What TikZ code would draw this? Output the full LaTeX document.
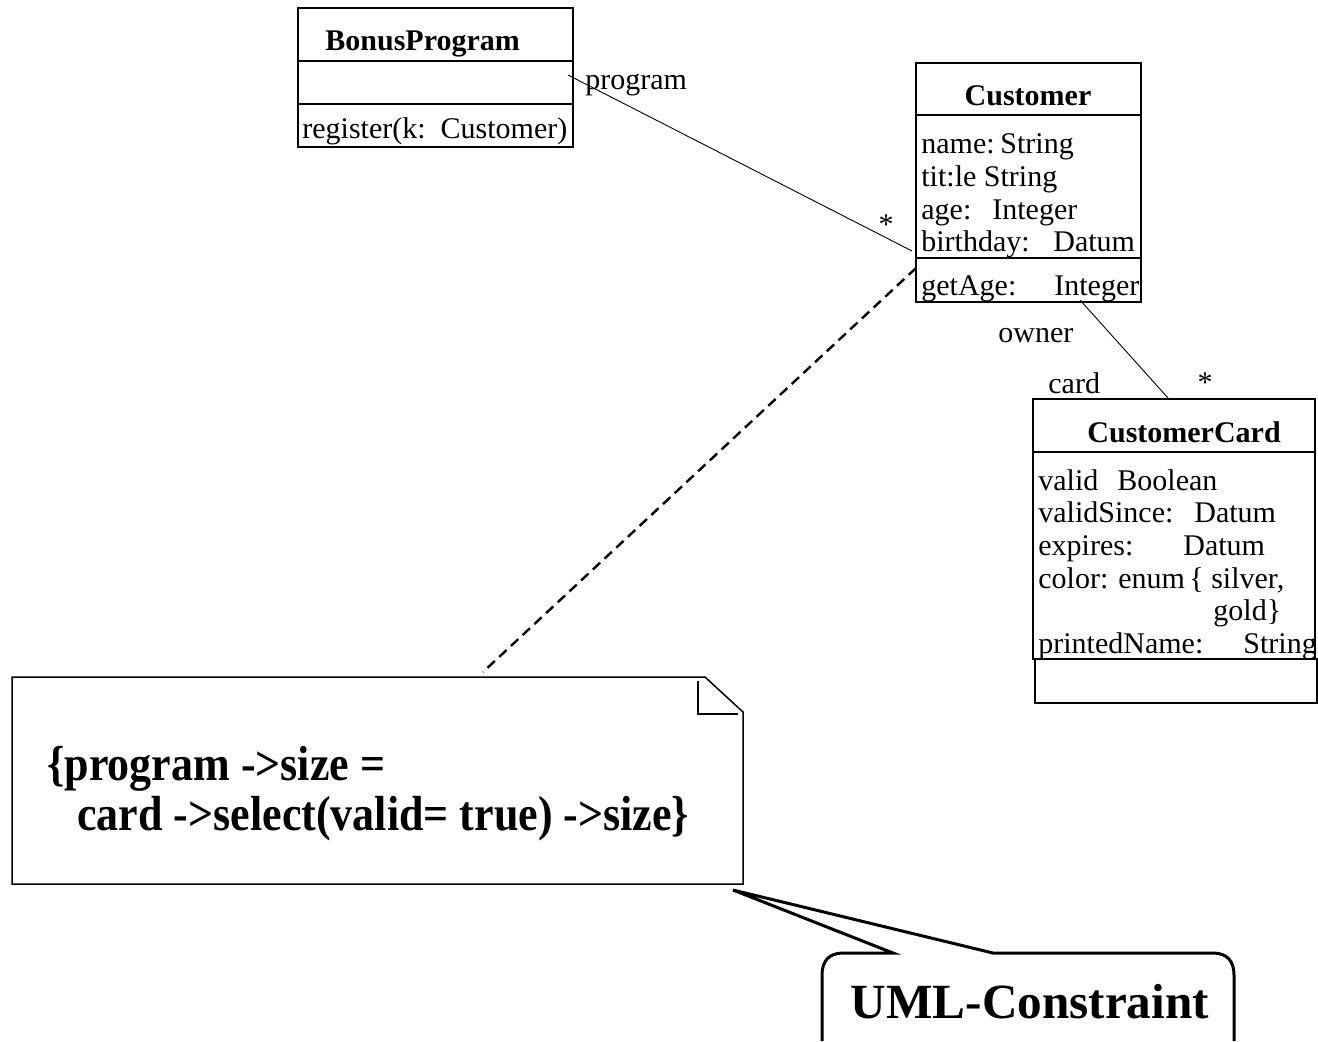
\documentclass[tikz,border=0pt]{standalone}
\usepackage{fontspec}
\usepackage{graphicx}
\setmainfont{Liberation Serif}
\usetikzlibrary{fit}
\begin{document}
\begin{tikzpicture}[x=0.5pt,y=-0.5pt,
  box/.style={draw, line width=0.55pt, inner sep=0pt, fit={#1}},
  rule/.style={line width=0.55pt},
  attr/.style={anchor=base west, inner sep=0pt, font=\fontsize{15}{18}\selectfont},
  ctitle/.style={anchor=base west, inner sep=0pt, font=\fontsize{15}{18}\selectfont\bfseries},
  assoc/.style={line width=0.45pt},
  anchorline/.style={line width=1.2pt, dash pattern=on 5pt off 3pt},
  note/.style={line width=0.75pt, line join=miter},
  notetext/.style={anchor=base west, inner sep=0pt, font=\fontsize{22}{26}\selectfont\bfseries},
  callout/.style={line width=1.5pt, line join=miter},
  calltext/.style={inner sep=0pt, font=\fontsize{24.6}{30}\selectfont\bfseries}]
\useasboundingbox (0,0) rectangle (1318,1041);

% ---- BonusProgram
\node[box={(298,8) (573,147)}] (bp) {};
\draw[rule] (298,61) -- (573,61);
\draw[rule] (298,104) -- (573,104);
\node[ctitle] (bpTitle) at (325,50) {BonusProgram};
\node[attr] (bpOp) at (302,138) {register(k:\ \ Customer)};

% ---- Customer
\node[box={(916,63) (1141,302)}] (cu) {};
\draw[rule] (916,115) -- (1141,115);
\draw[rule] (916,258) -- (1141,258);
\node[ctitle, anchor=base] (cuTitle) at (1028,105) {Customer};
\node[attr] (cuA1) at (921,153) {name:};
\node[attr] (cuT1) at (1000,153) {String};
\node[attr] (cuA2) at (921,186) {tit:le String};
\node[attr] (cuA3) at (921,219) {age:};
\node[attr] (cuT3) at (992,219) {Integer};
\node[attr] (cuA4) at (921,251) {birthday:};
\node[attr] (cuT4) at (1053,251) {Datum};
\node[attr] (cuOp) at (921,295) {getAge:};
\node[attr] (cuOpT) at (1054,295) {Integer};

% ---- CustomerCard
\node[box={(1033,399) (1315,659)}] (cc) {};
\node[box={(1035,659) (1317,703)}] (ccOps) {};
\draw[rule] (1033,452) -- (1315,452);
\node[ctitle] (ccTitle) at (1087,442) {CustomerCard};
\node[attr] (ccA1) at (1038,490) {valid};
\node[attr] (ccT1) at (1117,490) {Boolean};
\node[attr] (ccA2) at (1038,522) {validSince:};
\node[attr] (ccT2) at (1194,522) {Datum};
\node[attr] (ccA3) at (1038,555) {expires:};
\node[attr] (ccT3) at (1183,555) {Datum};
\node[attr] (ccA4) at (1038,588) {color:};
\node[attr] (ccT4) at (1118,588) {enum};
\node[attr] (ccT4b) at (1189,588) {\{ silver,};
\node[attr] (ccT4c) at (1213,620) {gold\}};
\node[attr] (ccA5) at (1038,653) {printedName:};
\node[attr] (ccT5) at (1243,653) {String};

% ---- association BonusProgram -- Customer
\coordinate (progEnd) at (568,75);
\coordinate (custEnd) at (912,251);
\draw[assoc] (progEnd) -- (custEnd);
\node[attr] (lblProgram) at (585,89) {program};
\node[attr, anchor=center] (lblMany1) at (886,225) {*};

% ---- association Customer -- CustomerCard
\coordinate (ownerEnd) at (1080,300);
\coordinate (cardEnd) at (1168,398);
\draw[assoc] (ownerEnd) -- (cardEnd);
\node[attr] (lblOwner) at (998,342) {owner};
\node[attr] (lblCard) at (1048,393) {card};
\node[attr, anchor=center] (lblMany2) at (1205,383) {*};

% ---- constraint note
\draw[note] (12,677) -- (705,677) -- (743,712) -- (743,884) -- (12,884) -- cycle;
\draw[note] (698,681) -- (698,714) -- (738,714);
\node[notetext] (nt1) at (47,780) {\scalebox{1}[1.12]{\{program ->size =}};
\node[notetext] (nt2) at (77,830) {\scalebox{1}[1.12]{card ->select(valid= true) ->size\}}};
\coordinate (noteTop) at (483,672);
\coordinate (custAnchor) at (916,268);
\draw[anchorline] (custAnchor) -- (noteTop);

% ---- callout: rounded box whose top edge opens into a pointer
\coordinate (tip) at (733,890);
\draw[callout] (822,1041) -- (822,975)
  .. controls (822,961) and (829,953) .. (843,953)
  -- (893,953) -- (tip) -- (993,953) -- (1213,953)
  .. controls (1227,953) and (1234,961) .. (1234,975) -- (1234,1041);
\node[calltext, anchor=base] (uml) at (1030,1018) {UML-Constraint};
\end{tikzpicture}
\end{document}
